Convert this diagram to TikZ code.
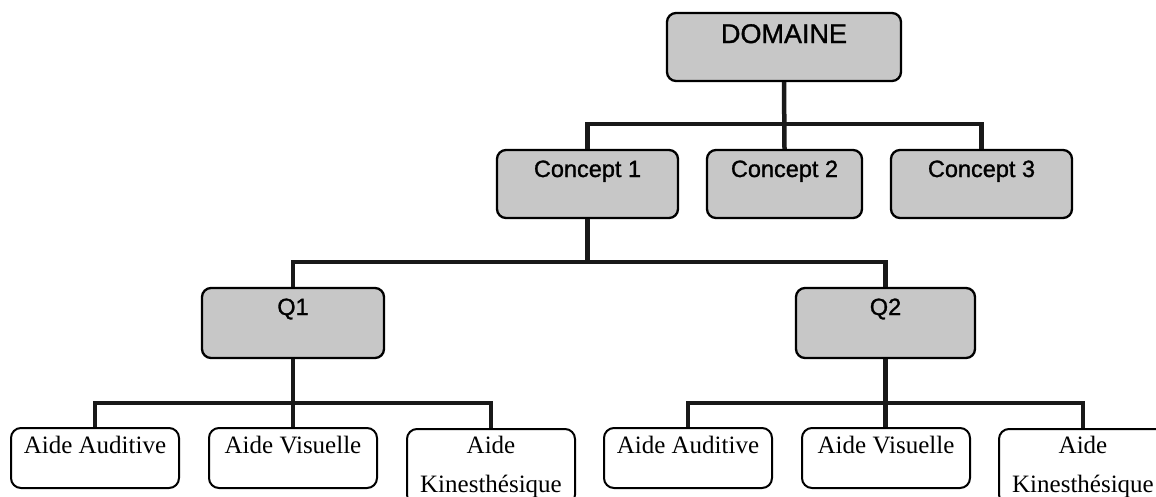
\documentclass[tikz,border=0pt]{standalone}
\usepackage{fontspec}
\setmainfont{Liberation Serif}
\newfontfamily\boxsans[FakeBold=1.2]{Liberation Sans}
\begin{document}
\begin{tikzpicture}[x=1pt,y=-1pt,
  graybox/.style={draw=black, line width=2.3pt, rounded corners=9pt,
    fill=black!22, inner xsep=0pt, inner ysep=0pt, anchor=center},
  topbox/.style={graybox, font=\boxsans\fontsize{27}{30}\selectfont,
    text height=30pt, text depth=38pt},
  midbox/.style={graybox, font=\boxsans\fontsize{23.5}{27}\selectfont,
    text height=27pt, text depth=41pt},
  qbox/.style={graybox, font=\boxsans\fontsize{23.5}{27}\selectfont,
    text height=27pt, text depth=43pt},
  leafbox/.style={draw=black, line width=2pt, rounded corners=10pt,
    fill=white, inner xsep=0pt, inner ysep=0pt, minimum width=168pt,
    font=\fontsize{25}{40}\selectfont, anchor=center,
    text height=25pt, text depth=35pt},
  leaftall/.style={draw=black, line width=2pt, rounded corners=10pt,
    fill=white, inner xsep=0pt, inner ysep=7pt, minimum width=168pt,
    font=\fontsize{25}{39}\selectfont, align=center, anchor=north},
  conn/.style={line width=4.5pt, draw=black!90}
]
\useasboundingbox (0,0) rectangle (1156,496);
\clip (0,0) rectangle (1156,496);

% root
\node[topbox, minimum width=234pt] (dom) at (784,47) {DOMAINE};

% concepts
\node[midbox, minimum width=181pt] (c1) at (587.5,184) {Concept 1};
\node[midbox, minimum width=155pt] (c2) at (784.5,184) {Concept 2};
\node[midbox, minimum width=181pt] (c3) at (981.5,184) {Concept 3};

% questions
\node[qbox, minimum width=182pt] (q1) at (293,323) {Q1};
\node[qbox, minimum width=179pt] (q2) at (885.5,323) {Q2};

% aids under Q1
\node[leafbox] (la1) at (95,458) {Aide Auditive};
\node[leafbox] (la2) at (293,458) {Aide Visuelle};
\node[leaftall] (la3) at (491,428) {Aide\\Kinesthésique};

% aids under Q2
\node[leafbox] (ra1) at (688,458) {Aide Auditive};
\node[leafbox] (ra2) at (886,458) {Aide Visuelle};
\node[leaftall] (ra3) at (1083,428) {Aide\\Kinesthésique};

% bus levels
\coordinate (busA) at (0,124);
\coordinate (busB) at (0,262);
\coordinate (busC) at (0,403);

% connectors
\draw[conn] (dom.south) -- (c2.north);
\draw[conn] (c1.north) |- (c3.north |- busA) -- (c3.north);

\draw[conn] (c1.south) -- (c1.south |- busB);
\draw[conn] (q1.north) |- (q2.north |- busB) -- (q2.north);

\draw[conn] (q1.south) -- (la2.north);
\draw[conn] (la1.north) |- (la3.north |- busC) -- (la3.north);

\draw[conn] (q2.south) -- (q2.south |- ra2.north);
\draw[conn] (ra1.north) |- (ra3.north |- busC) -- (ra3.north);
\end{tikzpicture}
\end{document}
